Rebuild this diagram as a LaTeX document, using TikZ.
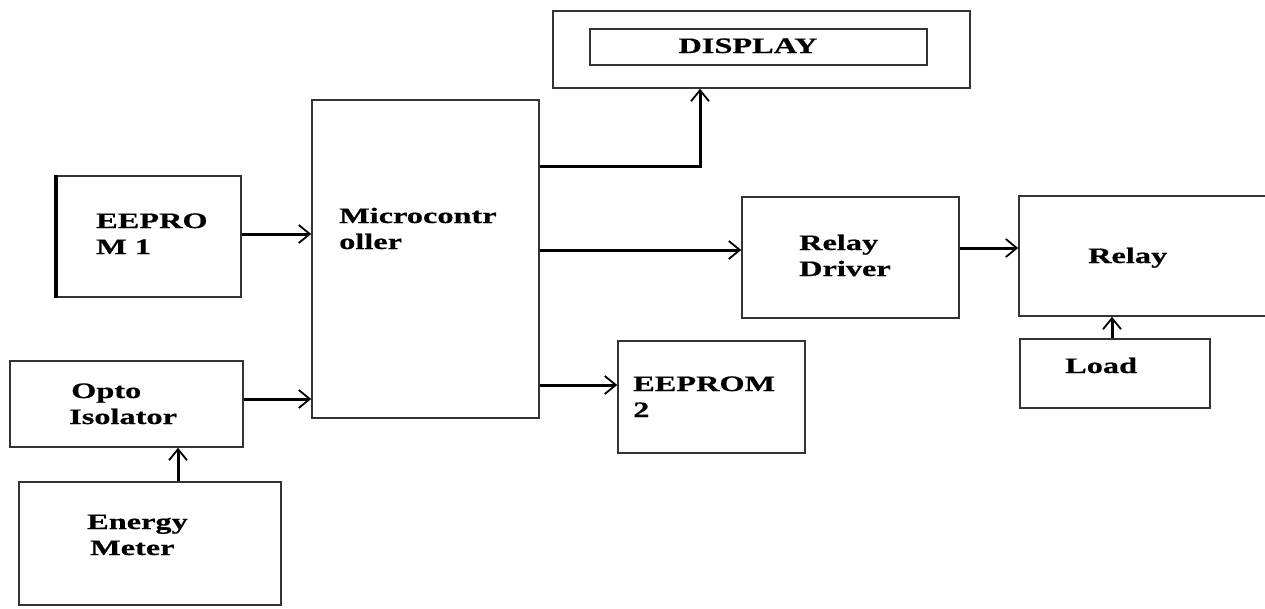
\documentclass[tikz,border=0pt]{standalone}
\usepackage{fontspec}
\setmainfont[FakeStretch=1.47,FakeBold=0.6]{Liberation Serif}
\usetikzlibrary{arrows.meta}
\begin{document}
\begin{tikzpicture}[x=1pt,y=-1pt,
  box/.style={draw=black!80, line width=1.6pt, inner sep=0pt, minimum width=#1},
  lbl/.style={anchor=base west, inner sep=0pt, align=left, font=\fontsize{22}{26}\selectfont\bfseries},
  arr/.style={line width=3pt, -{Straight Barb[length=11pt,width=18pt,line width=1.8pt]}}]
\useasboundingbox (0,0) rectangle (1265,608);
% boxes
\node[box=417pt, minimum height=77pt] (disp) at (761.5,49.5) {};
\node[box=337pt, minimum height=36pt] (dispin) at (758.5,47) {};
\node[box=227pt, minimum height=318pt] (mc) at (425.5,259) {};
\node[box=184pt, minimum height=121pt] (eep1) at (149,236.5) {};
\draw[line width=3.5pt] (eep1.north west) -- (eep1.south west);
\node[box=233pt, minimum height=86pt] (opto) at (126.5,404) {};
\node[box=262pt, minimum height=123pt] (em) at (150,543.5) {};
\node[box=217pt, minimum height=121pt] (rd) at (850.5,257.5) {};
\node[box=252pt, minimum height=120pt] (relay) at (1145,256) {};
\node[box=190pt, minimum height=69pt] (load) at (1115,373.5) {};
\node[box=187pt, minimum height=112pt] (eep2) at (711.5,397) {};
% texts (multi-line: position is baseline of last line)
\node[lbl, anchor=base] (tdisp) at (748,53) {DISPLAY};
\node[lbl] (tmc) at (339,249) {Microcontr\\oller};
\node[lbl] (te1) at (96,254) {EEPRO\\M 1};
\node[lbl] (topto) at (71,424) {Opto\\\hspace*{-2pt}Isolator};
\node[lbl] (tem) at (87,555) {Energy\\\hspace*{3pt}Meter};
\node[lbl] (trd) at (799,276) {Relay\\Driver};
\node[lbl] (trel) at (1088,263) {Relay};
\node[lbl] (tload) at (1065,373) {Load};
\node[lbl] (te2) at (633,417) {EEPROM\\2};
% connectors
\draw[arr] ([yshift=2.5pt]eep1.east) -- ([yshift=2.5pt]eep1.east -| mc.west);
\draw[arr] ([yshift=5pt]opto.east) -- ([yshift=5pt]opto.east -| mc.west);
\draw[arr] ([xshift=28pt]em.north) -- ([xshift=28pt]em.north |- opto.south);
\draw[arr] ([yshift=-67pt]mc.north east) -| ([xshift=-61.5pt]disp.south);
\draw[arr] ([yshift=7.5pt]rd.west -| mc.east) -- ([yshift=7.5pt]rd.west);
\draw[arr] ([yshift=12pt]eep2.west -| mc.east) -- ([yshift=12pt]eep2.west);
\draw[arr] ([yshift=9.5pt]rd.east) -- ([yshift=9.5pt]rd.east -| relay.west);
\draw[arr] ([xshift=-3pt]load.north) -- ([xshift=-3pt]load.north |- relay.south);
\end{tikzpicture}
\end{document}
